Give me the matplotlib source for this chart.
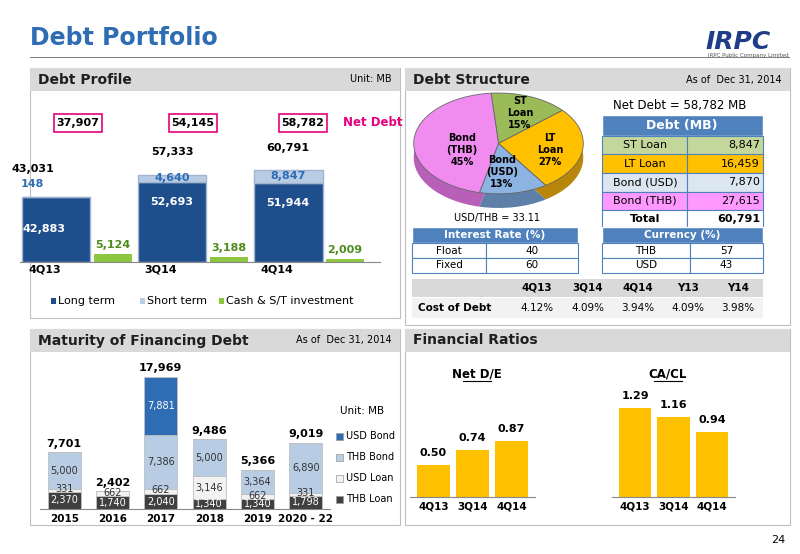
import matplotlib
matplotlib.use("Agg")
import matplotlib.pyplot as plt
from matplotlib.patches import Rectangle
import numpy as np

W, H = 800, 554
# ---- data ----
prof_cats = ["4Q13", "3Q14", "4Q14"]
long_term = [42883, 52693, 51944]
short_term = [148, 4640, 8847]
cash = [5124, 3188, 2009]
net_debt = [37907, 54145, 58782]

pie_labels = ["ST\nLoan\n15%", "LT\nLoan\n27%", "Bond\n(USD)\n13%", "Bond\n(THB)\n45%"]
pie_vals = [15, 27, 13, 45]

debt_items = ["ST Loan", "LT Loan", "Bond (USD)", "Bond (THB)"]
debt_vals = [8847, 16459, 7870, 27615]
rate_rows = [("Float", "40"), ("Fixed", "60")]
cur_rows = [("THB", "57"), ("USD", "43")]
cost_cols = ["4Q13", "3Q14", "4Q14", "Y13", "Y14"]
cost_vals = ["4.12%", "4.09%", "3.94%", "4.09%", "3.98%"]

mat_cats = ["2015", "2016", "2017", "2018", "2019", "2020 - 22"]
thb_loan = [2370, 1740, 2040, 1340, 1340, 1798]
usd_loan = [331, 662, 662, 3146, 662, 331]
thb_bond = [5000, 0, 7386, 5000, 3364, 6890]
usd_bond = [0, 0, 7881, 0, 0, 0]

ratio_cats = ["4Q13", "3Q14", "4Q14"]
net_de = [0.50, 0.74, 0.87]
ca_cl = [1.29, 1.16, 0.94]

fig = plt.figure(figsize=(8, 5.54), dpi=100)
fig.patch.set_facecolor("white")

def fx(x): return x / W
def fy(y): return 1 - y / H
def axpx(x0, y0, x1, y1):
    a = fig.add_axes([fx(x0), fy(y1), (x1 - x0) / W, (y1 - y0) / H])
    a.set_zorder(5)
    return a
def txt(x, y, s, **kw):
    kw.setdefault("ha", "left"); kw.setdefault("va", "center")
    kw.setdefault("zorder", 6)
    fig.text(fx(x), fy(y), s, **kw)
def rect(x0, y0, x1, y1, fc, ec="none", lw=1, z=0):
    fig.patches.append(Rectangle((fx(x0), fy(y1)), (x1-x0)/W, (y1-y0)/H, transform=fig.transFigure,
                                 facecolor=fc, edgecolor=ec, linewidth=lw, zorder=z))

# title
txt(30, 38, "Debt Portfolio", fontsize=17, fontweight="bold", color="#2E6DB4")
rect(30, 57, 790, 58.5, "#7F7F7F")
txt(738, 42, "IRPC", fontsize=18, fontweight="bold", color="#1F3C88", ha="center", style="italic")
txt(748, 56, "IRPC Public Company Limited", fontsize=4, color="#555555", ha="center")
txt(785, 540, "24", fontsize=8, ha="right")

# panel backgrounds & headers
for (x0, y0, x1, y1) in [(30, 68, 400, 318), (405, 68, 790, 325), (30, 329, 400, 525), (405, 329, 790, 525)]:
    rect(x0, y0, x1, y1, "white", ec="#BFBFBF", lw=0.8)
for (x0, y0, x1, title, right) in [(30, 68, 400, "Debt Profile", "Unit: MB"),
                                   (405, 68, 790, "Debt Structure", "As of  Dec 31, 2014"),
                                   (30, 329, 400, "Maturity of Financing Debt", "As of  Dec 31, 2014"),
                                   (405, 329, 790, "Financial Ratios", "")]:
    rect(x0, y0, x1, y0 + 23, "#D9D9D9", z=1)
    txt(x0 + 8, y0 + 11.5, title, fontsize=10, fontweight="bold", color="#1F1F1F")
    if right:
        txt(x1 - 8, y0 + 11.5, right, fontsize=7, ha="right")

# ---- Debt profile ----
ax = axpx(20, 100, 380, 262)
x = np.arange(3)
ax.bar(x, long_term, 0.59, color="#1F4E8C", edgecolor="#9FB5D0")
ax.bar(x, short_term, 0.59, bottom=long_term, color="#B8CCE4", edgecolor="#9FB5D0")
ax.bar(x + 0.49, cash, 0.33, color="#8DC63F")
ax.set_xlim(-0.31, 2.79); ax.set_ylim(0, 106500)
for s in ["top", "right", "left"]: ax.spines[s].set_visible(False)
ax.spines["bottom"].set_color("#888888")
ax.set_yticks([]); ax.set_xticks(x - 0.1); ax.set_xticklabels(prof_cats, fontsize=8, fontweight="bold")
ax.tick_params(axis="x", length=0, pad=2)
ax.patch.set_alpha(0)
for i in range(3):
    ax.text(i - (0.1 if i == 0 else 0), long_term[i] * (0.5 if i == 0 else 0.75), f"{long_term[i]:,}", color="white",
            fontsize=8, fontweight="bold", ha="center", va="center")
    sy = 51000 if i == 0 else long_term[i] + short_term[i] / 2
    ax.text(i - (0.2 if i == 0 else 0), sy, f"{short_term[i]:,}",
            color="#2E6DB4", fontsize=8, fontweight="bold", ha="center", va="center")
    ax.text(i + 0.49, cash[i] + 2500, f"{cash[i]:,}", color="#4E8B1A", fontsize=8, fontweight="bold",
            ha="center", va="bottom")
ax.text(-0.2, 43031 + 16000, "43,031", fontsize=8, fontweight="bold", ha="center")
ax.text(1.0, 57333 + 13000, "57,333", fontsize=8, fontweight="bold", ha="center")
ax.text(2.0, 60791 + 12000, "60,791", fontsize=8, fontweight="bold", ha="center")
for i, xc in enumerate([78, 193, 303]):
    rect(xc - 24, 114, xc + 24, 132, "white", ec="#E6007E", lw=1.2, z=3)
    txt(xc, 123, f"{net_debt[i]:,}", fontsize=8, fontweight="bold", ha="center")
txt(343, 123, "Net Debt", fontsize=8.5, fontweight="bold", color="#E6007E")
# legend
for lx, lab, c in [(58, "Long term", "#1F4E8C"), (147, "Short term", "#B8CCE4"), (226, "Cash & S/T investment", "#8DC63F")]:
    rect(lx - 7, 298, lx - 2, 304, c, z=3)
    txt(lx, 301, lab, fontsize=8)

# ---- Pie ----
axp = axpx(412, 92, 585, 210)
pcol = ["#9BBB59", "#FFC000", "#8DB3E2", "#F08CF0"]
dcol = ["#6E8A3A", "#B8860B", "#5E7FA8", "#B860B8"]
axp.pie(pie_vals, colors=dcol, startangle=95, counterclock=False, center=(0, -0.28),
        wedgeprops=dict(edgecolor="none"))
axp.pie(pie_vals, colors=pcol, startangle=95, counterclock=False,
        wedgeprops=dict(edgecolor="#666666", linewidth=0.6))
axp.set_aspect("auto")
axp.set_xlim(-1.02, 1.02); axp.set_ylim(-1.32, 1.02)
txt(520, 113, pie_labels[0], fontsize=7, fontweight="bold", ha="center", zorder=7)
txt(550, 150, pie_labels[1], fontsize=7, fontweight="bold", ha="center", zorder=7)
txt(502, 172, pie_labels[2], fontsize=7, fontweight="bold", ha="center", zorder=7)
txt(462, 150, pie_labels[3], fontsize=7, fontweight="bold", ha="center", zorder=7)
txt(497, 218, "USD/THB = 33.11", fontsize=7, ha="center")

# Debt table
txt(680, 105, "Net Debt = 58,782 MB", fontsize=8.5, ha="center")
rect(602, 115, 763, 136, "#4F81BD", ec="white", z=2)
txt(682, 125.5, "Debt (MB)", fontsize=9, fontweight="bold", color="white", ha="center")
row_c = ["#C4D79B", "#FFC000", "#DCE6F1", "#FF99FF"]
y0 = 136
for i, (lab, v) in enumerate(zip(debt_items, debt_vals)):
    rect(602, y0, 687, y0 + 18.5, row_c[i], ec="#4F81BD", lw=0.8, z=2)
    rect(687, y0, 763, y0 + 18.5, row_c[i], ec="#4F81BD", lw=0.8, z=2)
    txt(645, y0 + 9.25, lab, fontsize=8, ha="center")
    txt(760, y0 + 9.25, f"{v:,}", fontsize=8, ha="right")
    y0 += 18.5
rect(602, y0, 687, y0 + 17, "white", ec="#4F81BD", lw=0.8, z=2)
rect(687, y0, 763, y0 + 17, "white", ec="#4F81BD", lw=0.8, z=2)
txt(645, y0 + 8.5, "Total", fontsize=8, fontweight="bold", ha="center")
txt(760, y0 + 8.5, f"{sum(debt_vals):,}", fontsize=8, fontweight="bold", ha="right")

# interest & currency tables
def small_table(x0, x1, xm, title, rows):
    rect(x0, 227, x1, 243, "#4F81BD", ec="white", z=2)
    txt((x0 + x1) / 2, 235, title, fontsize=7.5, fontweight="bold", color="white", ha="center")
    for j, (a, b) in enumerate(rows):
        yy = 243 + j * 15
        rect(x0, yy, xm, yy + 15, "white", ec="#4F81BD", lw=0.8, z=2)
        rect(xm, yy, x1, yy + 15, "white", ec="#4F81BD", lw=0.8, z=2)
        txt((x0 + xm) / 2, yy + 7.5, a, fontsize=7.5, ha="center")
        txt((xm + x1) / 2, yy + 7.5, b, fontsize=7.5, ha="center")
small_table(412, 578, 486, "Interest Rate (%)", rate_rows)
small_table(602, 763, 690, "Currency (%)", cur_rows)
rect(412, 279, 763, 297, "#D9D9D9", z=1)
rect(412, 298, 763, 318, "#F2F2F2", z=1)
cx = [537, 588, 638, 688, 738]
for c, lab, v in zip(cx, cost_cols, cost_vals):
    txt(c, 288, lab, fontsize=7.5, fontweight="bold", ha="center")
    txt(c, 308, v, fontsize=7.5, ha="center")
txt(418, 308, "Cost of Debt", fontsize=7.5, fontweight="bold")

# ---- Maturity ----
axm = axpx(40, 377, 330, 509)
xm = np.arange(6)
b1 = np.array(thb_loan); b2 = b1 + usd_loan; b3 = b2 + thb_bond
axm.bar(xm, thb_loan, 0.68, color="#404040", edgecolor="#BFBFBF", linewidth=0.6)
axm.bar(xm, usd_loan, 0.68, bottom=b1, color="#F2F2F2", edgecolor="#BFBFBF", linewidth=0.6)
axm.bar(xm, thb_bond, 0.68, bottom=b2, color="#B8CCE4", edgecolor="#BFBFBF", linewidth=0.6)
axm.bar(xm, usd_bond, 0.68, bottom=b3, color="#2E6DB4", edgecolor="#BFBFBF", linewidth=0.6)
axm.set_xlim(-0.5, 5.5); axm.set_ylim(0, 17969)
for s in ["top", "right", "left"]: axm.spines[s].set_visible(False)
axm.spines["bottom"].set_color("#888888")
axm.set_yticks([]); axm.set_xticks(xm); axm.set_xticklabels(mat_cats, fontsize=7.5, fontweight="bold")
axm.tick_params(axis="x", length=0); axm.patch.set_alpha(0)
for i in range(6):
    axm.text(i, thb_loan[i] / 2, f"{thb_loan[i]:,}", color="white", fontsize=7, ha="center", va="center")
    axm.text(i, b1[i] + usd_loan[i] / 2 + (150 if usd_loan[i] < 1000 else 0), f"{usd_loan[i]:,}", fontsize=7, ha="center", va="center", color="#333333")
    if thb_bond[i]:
        axm.text(i, b2[i] + thb_bond[i] / 2, f"{thb_bond[i]:,}", fontsize=7, ha="center", va="center", color="#333333")
    if usd_bond[i]:
        axm.text(i, b3[i] + usd_bond[i] / 2, f"{usd_bond[i]:,}", fontsize=7, ha="center", va="center", color="white")
    tot = b3[i] + usd_bond[i]
    axm.text(i, tot + 500, f"{tot:,}", fontsize=8, fontweight="bold", ha="center", va="bottom", clip_on=False)
txt(362, 411, "Unit: MB", fontsize=7.5, ha="center")
for ly, lab, c in [(436, "USD Bond", "#2E6DB4"), (457, "THB Bond", "#B8CCE4"), (478, "USD Loan", "#F2F2F2"), (499, "THB Loan", "#404040")]:
    rect(336, ly - 3.5, 343, ly + 3.5, c, ec="#999999", lw=0.5, z=3)
    txt(346, ly, lab, fontsize=7)

# ---- Ratios ----
def ratio(x0, x1, vals, title, tx, ylim):
    a = axpx(x0, 380, x1, 497)
    a.bar(np.arange(3), vals, 0.85, color="#FFC000")
    a.set_xlim(-0.6, 2.6); a.set_ylim(0, ylim)
    for s in ["top", "right", "left"]: a.spines[s].set_visible(False)
    a.spines["bottom"].set_color("#888888")
    a.set_yticks([]); a.set_xticks(range(3)); a.set_xticklabels(ratio_cats, fontsize=7.5, fontweight="bold")
    a.tick_params(axis="x", length=0); a.patch.set_alpha(0)
    for i, v in enumerate(vals):
        a.text(i, v + ylim * 0.06, f"{v:.2f}", fontsize=8, fontweight="bold", ha="center", va="bottom")
    txt(tx, 374, title, fontsize=8.5, fontweight="bold", ha="center")
    fig.lines.append(plt.Line2D([fx(tx - 14), fx(tx + 14)], [fy(381), fy(381)], transform=fig.transFigure,
                                color="black", lw=0.8, zorder=6))
ratio(410, 535, net_de, "Net D/E", 477, 1.83)
ratio(612, 735, ca_cl, "CA/CL", 668, 1.7)

fig.savefig("out.png", dpi=100)
